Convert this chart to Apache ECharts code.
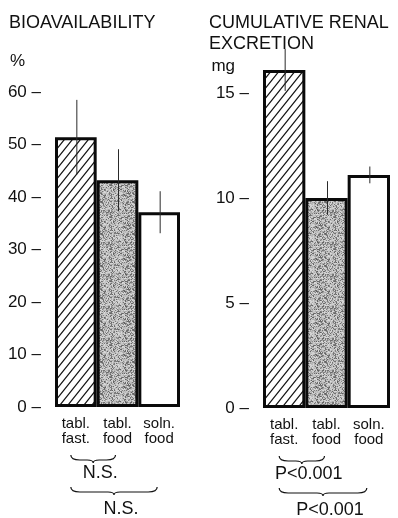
<!DOCTYPE html>
<html>
<head>
<meta charset="utf-8">
<script src="https://cdn.jsdelivr.net/npm/echarts@6/dist/echarts.min.js"></script>
<style>
  html, body { margin: 0; padding: 0; background: #fff; }
  #chart { width: 398px; height: 518px; }
</style>
</head>
<body>
<div id="chart"></div>
<script>
// Study arms, shared by both panels
const categories = ['tabl.\nfast.', 'tabl.\nfood', 'soln.\nfood'];

// Bioavailability (%), mean and error half-width
const bioavailability = [51.4, 43.2, 37.1];
const bioavailabilityError = [7.1, 5.9, 4.0];

// Cumulative renal excretion (mg), mean and error half-width
const renalExcretion = [16.1, 10.0, 11.1];
const renalExcretionError = [1.0, 0.8, 0.4];

// Axis ranges: [min, max, interval]
const bioTicks = [0, 60, 10];
const renalTicks = [0, 15, 5];

// Pairwise comparisons: [from category, to category, result]
const bioComparisons = [[0, 1, 'N.S.'], [0, 2, 'N.S.']];
const renalComparisons = [[0, 1, 'P<0.001'], [0, 2, 'P<0.001']];

const FONT = '"Liberation Sans", Arial, Helvetica, sans-serif';
const INK = '#111';

// Diagonal hatching for the fasting tablet bars
function hatchPattern() {
  const w = 8, h = 10;
  const c = document.createElement('canvas');
  c.width = w; c.height = h;
  const g = c.getContext('2d');
  g.fillStyle = '#fff';
  g.fillRect(0, 0, w, h);
  g.strokeStyle = '#151515';
  g.lineWidth = 1.2;
  g.beginPath();
  for (let k = -1; k <= 1; k++) {
    const x0 = k * w;
    g.moveTo(x0 - w, h * 2);
    g.lineTo(x0 + w * 2, -h);
  }
  g.stroke();
  return c;
}

// Fine grey stipple for the fed tablet bars
function stipplePattern() {
  const n = 32;
  const c = document.createElement('canvas');
  c.width = n; c.height = n;
  const g = c.getContext('2d');
  const img = g.createImageData(n, n);
  for (let y = 0; y < n; y++) {
    for (let x = 0; x < n; x++) {
      let s = (x * 374761393 + y * 668265263) | 0;
      s = Math.imul(s ^ (s >>> 13), 1274126177);
      s = (s ^ (s >>> 16)) >>> 0;
      const t = (s % 1000) / 1000;
      const v = t < 0.3 ? 95 + t * 150 : 165 + (t - 0.3) * 80;
      const i = (y * n + x) * 4;
      img.data[i] = img.data[i + 1] = img.data[i + 2] = v;
      img.data[i + 3] = 255;
    }
  }
  g.putImageData(img, 0, 0);
  return c;
}

const fills = [
  { image: hatchPattern(), repeat: 'repeat' },
  { image: stipplePattern(), repeat: 'repeat' },
  '#ffffff'
];

function barData(values) {
  return values.map((v, i) => ({
    value: v,
    itemStyle: { color: fills[i] }
  }));
}

function errorData(values, errors) {
  return values.map((v, i) => [i, v, errors[i]]);
}

function renderError(params, api) {
  const x = api.value(0), v = api.value(1), e = api.value(2);
  const top = api.coord([x, v + e]);
  const bot = api.coord([x, v - e]);
  return {
    type: 'line',
    shape: { x1: top[0] + 1, y1: top[1], x2: bot[0] + 1, y2: bot[1] },
    style: { stroke: '#2a2a2a', lineWidth: 1 }
  };
}

// Horizontal curly brace below the category labels, with the test result underneath
function braceRenderer(comparisons) {
  return function (params, api) {
    const cmp = comparisons[params.dataIndex];
    const a = api.coord([cmp[0], 0]);
    const b = api.coord([cmp[1], 0]);
    const level = params.dataIndex;
    const y0 = a[1] + (level === 0 ? 48 : 80);
    const x1 = a[0] - 5, x2 = b[0] - 2;
    const xm = (x1 + x2) / 2;
    const yl = y0 + 5, yt = y0 + 8;
    const d = [
      'M', x1, y0,
      'Q', x1, yl, x1 + 9, yl,
      'L', xm - 6, yl,
      'Q', xm, yl, xm, yt,
      'Q', xm, yl, xm + 6, yl,
      'L', x2 - 9, yl,
      'Q', x2, yl, x2, y0
    ].join(' ');
    return {
      type: 'group',
      children: [
        {
          type: 'path',
          shape: { pathData: d },
          style: { fill: 'none', stroke: INK, lineWidth: 1.2 }
        },
        {
          type: 'text',
          x: xm + 7,
          y: y0 + (level === 0 ? 18 : 22),
          style: {
            text: cmp[2],
            fill: INK,
            font: '18px ' + FONT,
            align: 'center',
            verticalAlign: 'middle'
          }
        }
      ]
    };
  };
}

function valueAxis(gridIndex, ticks, unit, nameGap, namePad) {
  return {
    type: 'value',
    gridIndex: gridIndex,
    min: ticks[0],
    max: ticks[1],
    interval: ticks[2],
    name: unit,
    nameLocation: 'end',
    nameGap: nameGap,
    nameTextStyle: {
      fontFamily: FONT, fontSize: 17, color: INK,
      align: 'right', padding: [0, namePad, 0, 0]
    },
    axisLine: { show: false },
    axisTick: { show: false },
    splitLine: { show: false },
    axisLabel: {
      formatter: '{value} –',
      margin: 14,
      fontFamily: FONT, fontSize: 17, color: INK
    }
  };
}

function categoryAxis(gridIndex) {
  return {
    type: 'category',
    gridIndex: gridIndex,
    data: categories,
    axisLine: { show: false },
    axisTick: { show: false },
    axisLabel: {
      margin: 9,
      interval: 0,
      fontFamily: FONT, fontSize: 15, lineHeight: 15, color: INK
    }
  };
}

const barStyle = { borderColor: '#0a0a0a', borderWidth: 3 };

const option = {
  animation: false,
  backgroundColor: '#fff',
  title: [
    {
      text: 'BIOAVAILABILITY', left: 9, top: 14, padding: 0,
      textStyle: { fontFamily: FONT, fontSize: 18, fontWeight: 'normal', color: INK }
    },
    {
      text: 'CUMULATIVE RENAL\nEXCRETION', left: 209, top: 13, padding: 0,
      textStyle: { fontFamily: FONT, fontSize: 18, fontWeight: 'normal', color: INK, lineHeight: 21 }
    }
  ],
  grid: [
    { left: 55, width: 125, top: 92, bottom: 111 },
    { left: 263, width: 127, top: 93, bottom: 110 }
  ],
  xAxis: [categoryAxis(0), categoryAxis(1)],
  yAxis: [
    valueAxis(0, bioTicks, '%', 22, 30),
    valueAxis(1, renalTicks, 'mg', 18, 28)
  ],
  series: [
    {
      type: 'bar', xAxisIndex: 0, yAxisIndex: 0,
      data: barData(bioavailability),
      barCategoryGap: '0%', itemStyle: barStyle, clip: false
    },
    {
      type: 'custom', xAxisIndex: 0, yAxisIndex: 0, clip: false, z: 5,
      data: errorData(bioavailability, bioavailabilityError),
      renderItem: renderError
    },
    {
      type: 'bar', xAxisIndex: 1, yAxisIndex: 1,
      data: barData(renalExcretion),
      barCategoryGap: '0%', itemStyle: barStyle, clip: false
    },
    {
      type: 'custom', xAxisIndex: 1, yAxisIndex: 1, clip: false, z: 5,
      data: errorData(renalExcretion, renalExcretionError),
      renderItem: renderError
    },
    {
      type: 'custom', xAxisIndex: 0, yAxisIndex: 0, clip: false, silent: true,
      data: bioComparisons.map(c => [c[0], 0]),
      renderItem: braceRenderer(bioComparisons)
    },
    {
      type: 'custom', xAxisIndex: 1, yAxisIndex: 1, clip: false, silent: true,
      data: renalComparisons.map(c => [c[0], 0]),
      renderItem: braceRenderer(renalComparisons)
    }
  ]
};

const chart = echarts.init(document.getElementById('chart'), null, { renderer: 'canvas' });
chart.setOption(option);
</script>
</body>
</html>
